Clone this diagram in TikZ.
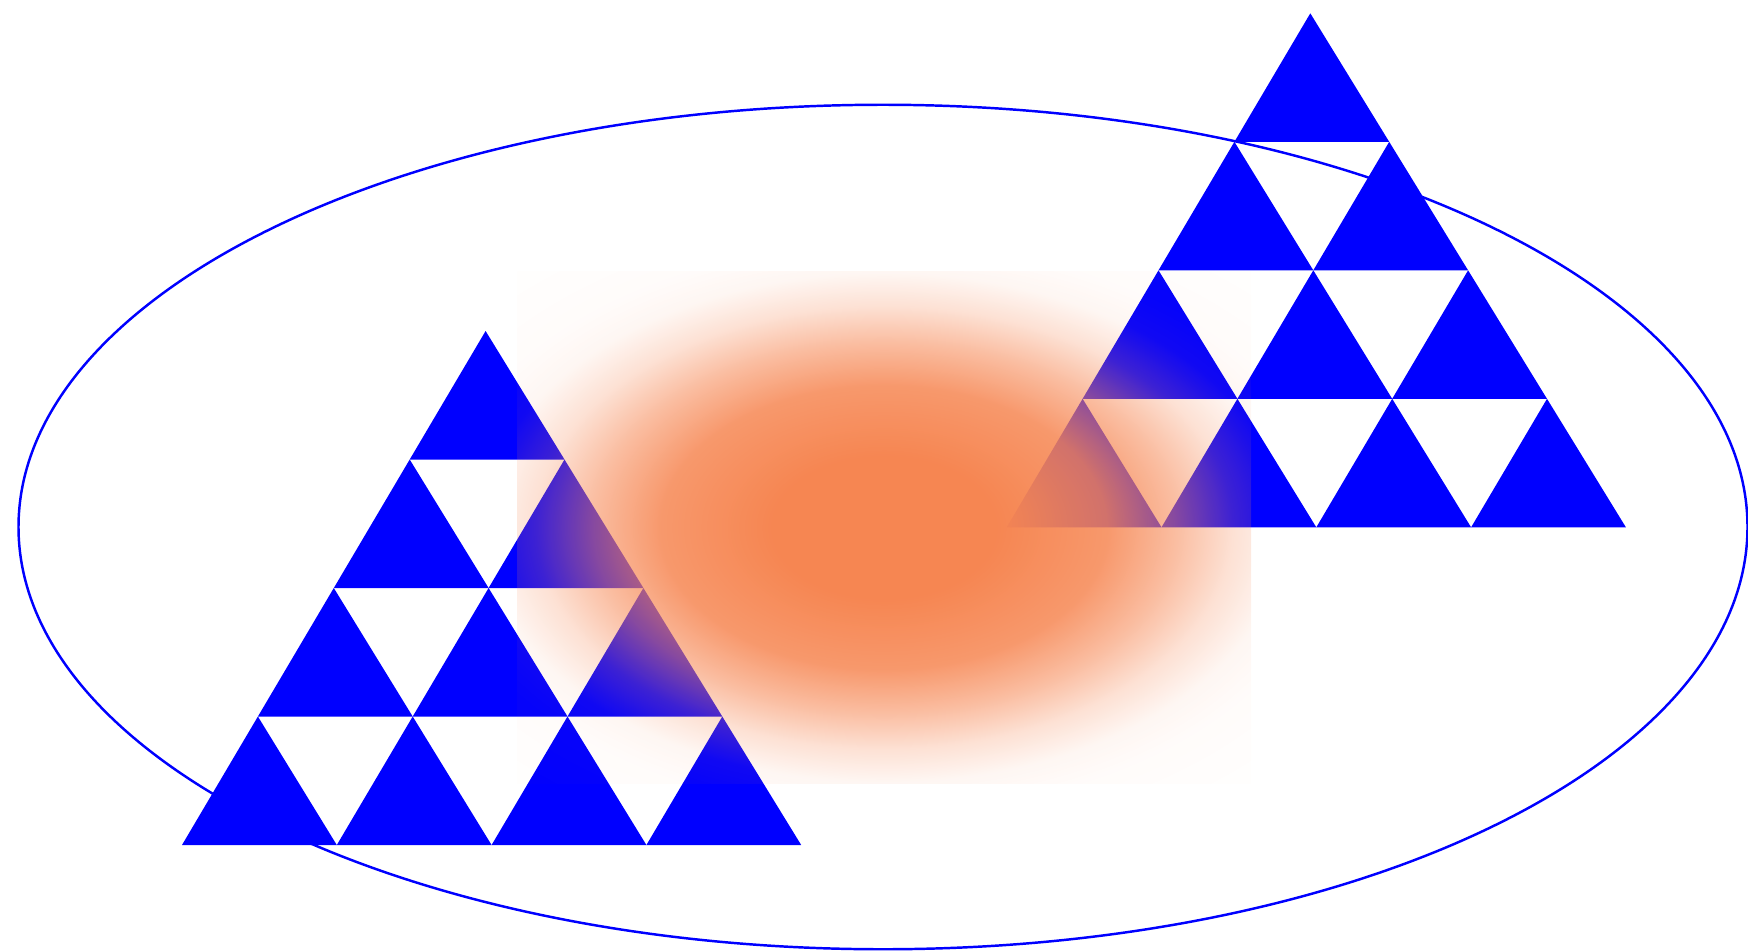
\documentclass[tikz,border=0pt]{standalone}
\usetikzlibrary{fadings}
\definecolor{blobcol}{RGB}{246,134,82}
\pgfdeclareradialshading{blobshading}{\pgfpointorigin}{color(0bp)=(pgftransparent!0); color(6.9bp)=(pgftransparent!0); color(13.75bp)=(pgftransparent!15); color(17.9bp)=(pgftransparent!45); color(21.5bp)=(pgftransparent!75); color(24.75bp)=(pgftransparent!93); color(27.5bp)=(pgftransparent!97); color(33bp)=(pgftransparent!99); color(50bp)=(pgftransparent!99.5)}
\pgfdeclarefading{blobfade}{\pgfuseshading{blobshading}}
\tikzset{
  tri/.style={fill=blue},
  ringline/.style={draw=blue, line width=0.7pt},
  blob/.style={fill=blobcol, path fading=blobfade}
}
\begin{document}
\begin{tikzpicture}[x=0.01cm, y=-0.01cm]
\useasboundingbox (0,0) rectangle (1748,951);
% outer ellipse
\draw[ringline] (883,527) ellipse [x radius=8.64cm, y radius=4.22cm];
% left group of triangles
\foreach \k in {0,...,3}{
  \pgfmathtruncatemacro\n{3-\k}
  \foreach \j in {0,...,\n}{
    \fill[tri] ({182+\k*75.9+\j*154.8},{845-\k*128.5}) -- ++(154.8,0) -- ++({75.9-154.8},-128.5) -- cycle;
  }
}
% right group of triangles
\foreach \k in {0,...,3}{
  \pgfmathtruncatemacro\n{3-\k}
  \foreach \j in {0,...,\n}{
    \fill[tri] ({1006.7+\k*75.9+\j*154.8},{527.3-\k*128.5}) -- ++(154.8,0) -- ++({75.9-154.8},-128.5) -- cycle;
  }
}
% orange blurred blob
\begin{scope}
  \clip (517,271) rectangle (1251,784);
  \fill[blob] (480,271) rectangle (1288,784);
\end{scope}
\end{tikzpicture}
\end{document}
